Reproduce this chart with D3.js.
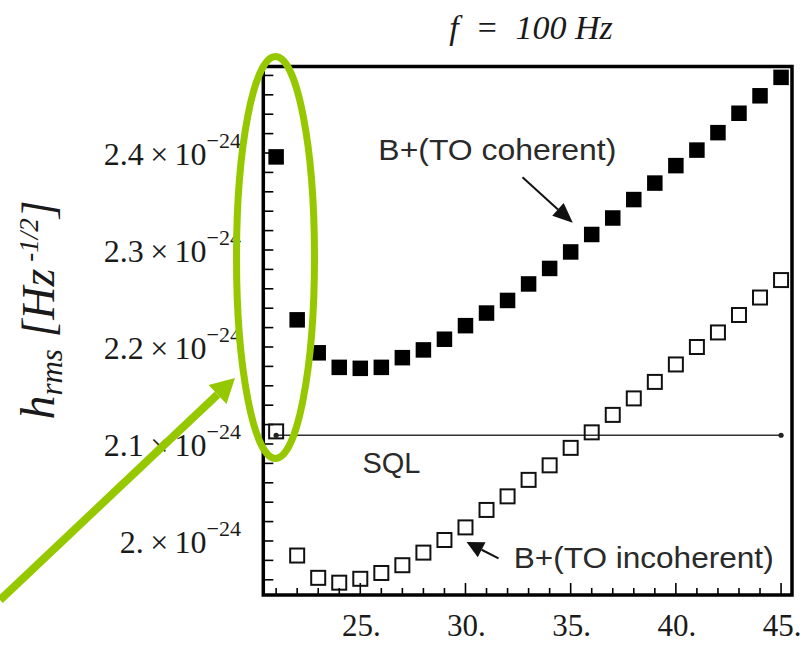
<!DOCTYPE html>
<html>
<head>
<meta charset="utf-8">
<script src="https://cdn.jsdelivr.net/npm/d3@7.9.0/dist/d3.min.js"></script>
<style>
  body { margin: 0; background: #fff; }
  svg { display: block; }
  .serif { font-family: "Liberation Serif", "Times New Roman", serif; fill: #1a1a1a; }
  .sans { font-family: "Liberation Sans", Arial, sans-serif; fill: #2a2a2a; }
</style>
</head>
<body>
<svg id="chart" width="803" height="645"></svg>
<script>
// data (values in units of 1e-24)
const distances = [21, 22, 23, 24, 25, 26, 27, 28, 29, 30, 31, 32, 33, 34, 35, 36, 37, 38, 39, 40, 41, 42, 43, 44, 45];
const coherent = [2.396, 2.228, 2.194, 2.179, 2.178, 2.179, 2.189, 2.197, 2.208, 2.222, 2.235, 2.248, 2.265,
                  2.281, 2.298, 2.316, 2.333, 2.352, 2.369, 2.387, 2.403, 2.421, 2.441, 2.459, 2.478];
const incoherent = [2.113, 1.985, 1.962, 1.957, 1.961, 1.967, 1.975, 1.988, 2.001, 2.014, 2.032, 2.046, 2.063,
                    2.078, 2.096, 2.112, 2.130, 2.147, 2.164, 2.182, 2.200, 2.215, 2.233, 2.251, 2.269];
const sqlLevel = 2.109;
const sqlRange = [21, 45];

const xTicks = [25, 30, 35, 40, 45];
const xTickLabels = ['25.', '30.', '35.', '40.', '45.'];
const yTicks = [2.0, 2.1, 2.2, 2.3, 2.4];
const yTickLabels = ['2.', '2.1', '2.2', '2.3', '2.4'];

const svg = d3.select('#chart');

// plot frame
const frame = { left: 263.3, right: 792, top: 66.5, bottom: 595 };

const x = d3.scaleLinear().domain([20.39, 45.52]).range([frame.left, frame.right]);
const y = d3.scaleLinear().domain([1.9443, 2.4892]).range([frame.bottom, frame.top]);

// minor + major ticks (inward, Mathematica style)
svg.append('g').selectAll('line')
  .data(d3.range(1.96, 2.481, 0.02))
  .join('line')
  .attr('x1', frame.left).attr('x2', frame.left + 10)
  .attr('y1', d => y(d)).attr('y2', d => y(d))
  .attr('stroke', '#000').attr('stroke-width', 1.6);

svg.append('g').selectAll('line')
  .data(d3.range(21, 46, 1))
  .join('line')
  .attr('x1', d => x(d)).attr('x2', d => x(d))
  .attr('y1', frame.bottom)
  .attr('y2', d => frame.bottom - (d % 5 === 0 ? 12 : 7))
  .attr('stroke', '#000').attr('stroke-width', 1.6);

// frame
svg.append('rect')
  .attr('x', frame.left).attr('y', frame.top)
  .attr('width', frame.right - frame.left).attr('height', frame.bottom - frame.top)
  .attr('fill', 'none').attr('stroke', '#000').attr('stroke-width', 3.5);

// y tick labels
const yl = svg.append('g').attr('class', 'serif');
yTicks.forEach((t, i) => {
  const txt = yl.append('text')
    .attr('x', 241).attr('y', y(t) + 12)
    .attr('text-anchor', 'end');
  txt.append('tspan').attr('font-size', 32).text(yTickLabels[i] + '\u2009\u00d7\u200910');
  txt.append('tspan').attr('font-size', 22).attr('dy', -17).text('\u221224');
});

// x tick labels
svg.append('g').attr('class', 'serif')
  .selectAll('text')
  .data(xTicks)
  .join('text')
  .attr('x', d => x(d) + 1).attr('y', 636)
  .attr('text-anchor', 'middle')
  .attr('font-size', 31)
  .text((d, i) => xTickLabels[i]);

// title
svg.append('text').attr('class', 'serif')
  .attr('x', 531).attr('y', 39)
  .attr('text-anchor', 'middle')
  .attr('font-size', 34).attr('font-style', 'italic')
  .text('f\u2002=\u2002100 Hz');

// y axis label
const ylab = svg.append('text').attr('class', 'serif')
  .attr('transform', 'translate(54,310) rotate(-90)')
  .attr('text-anchor', 'middle')
  .attr('font-style', 'italic');
ylab.append('tspan').attr('font-size', 48).text('h');
ylab.append('tspan').attr('font-size', 31).attr('dy', 8).text('rms');
ylab.append('tspan').attr('font-size', 46).attr('dy', -8).text(' [Hz');
ylab.append('tspan').attr('font-size', 27).attr('dy', -16).text(' -1/2');
ylab.append('tspan').attr('font-size', 46).attr('dy', 16).text(']');

// SQL line
svg.append('line')
  .attr('x1', x(sqlRange[0])).attr('x2', x(sqlRange[1]))
  .attr('y1', y(sqlLevel)).attr('y2', y(sqlLevel))
  .attr('stroke', '#333').attr('stroke-width', 1.6);
svg.append('g').selectAll('circle')
  .data(sqlRange)
  .join('circle')
  .attr('cx', d => x(d)).attr('cy', y(sqlLevel)).attr('r', 2.6)
  .attr('fill', '#222');

// markers
const sq = 15.5;
svg.append('g').selectAll('rect')
  .data(distances)
  .join('rect')
  .attr('x', d => x(d) - sq / 2)
  .attr('y', (d, i) => y(coherent[i]) - sq / 2)
  .attr('width', sq).attr('height', sq)
  .attr('fill', '#000');

const osq = 14;
svg.append('g').selectAll('rect')
  .data(distances)
  .join('rect')
  .attr('x', d => x(d) - osq / 2)
  .attr('y', (d, i) => y(incoherent[i]) - osq / 2)
  .attr('width', osq).attr('height', osq)
  .attr('fill', 'none').attr('stroke', '#111').attr('stroke-width', 2);

// annotations
function arrow(x1, y1, x2, y2, len, wid, color, sw) {
  const a = Math.atan2(y2 - y1, x2 - x1);
  const bx = x2 - len * Math.cos(a), by = y2 - len * Math.sin(a);
  svg.append('line')
    .attr('x1', x1).attr('y1', y1).attr('x2', bx).attr('y2', by)
    .attr('stroke', color).attr('stroke-width', sw);
  const px = Math.sin(a) * wid / 2, py = -Math.cos(a) * wid / 2;
  svg.append('path')
    .attr('d', `M${x2},${y2}L${bx + px},${by + py}L${bx - px},${by - py}Z`)
    .attr('fill', color);
}

svg.append('text').attr('class', 'sans')
  .attr('x', x(25.86)).attr('y', y(2.393))
  .attr('font-size', 29).attr('textLength', 238).attr('lengthAdjust', 'spacingAndGlyphs')
  .text('B+(TO coherent)');
arrow(x(32.71), y(2.375), x(35.1), y(2.328), 20, 17, '#111', 2);

svg.append('text').attr('class', 'sans')
  .attr('x', x(25.1)).attr('y', y(2.070))
  .attr('font-size', 29)
  .text('SQL');

svg.append('text').attr('class', 'sans')
  .attr('x', x(32.29)).attr('y', y(1.972))
  .attr('font-size', 29).attr('textLength', 260).attr('lengthAdjust', 'spacingAndGlyphs')
  .text('B+(TO incoherent)');
arrow(x(31.57), y(1.982), x(30.05), y(1.999), 17, 17, '#111', 2);

// green highlight
const green = '#96c800';
svg.append('ellipse')
  .attr('cx', 275.5).attr('cy', 257.5)
  .attr('rx', 39).attr('ry', 201)
  .attr('fill', 'none').attr('stroke', green).attr('stroke-width', 7);
arrow(0, 600, 235, 378, 24, 26, green, 8);
</script>
</body>
</html>
